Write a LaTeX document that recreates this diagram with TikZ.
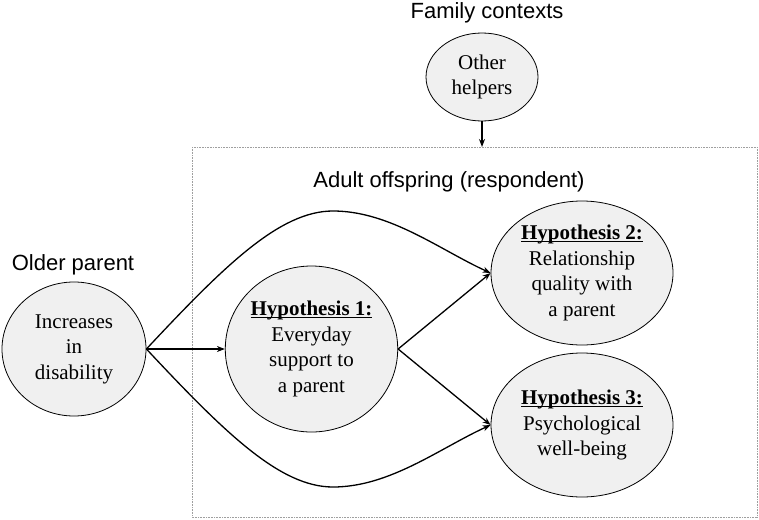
\documentclass[tikz,border=0pt]{standalone}
\usepackage{fontspec}
\setmainfont{Liberation Serif}
\newfontfamily\labelfont{Liberation Sans}
\usetikzlibrary{shapes.geometric,arrows.meta}
\newcommand\hyphead[1]{\setbox0\hbox{\textbf{#1}}\rlap{\textbf{#1}}\rule[-2.2pt]{\wd0}{1.1pt}}
\begin{document}
\begin{tikzpicture}[x=1pt,y=-1pt,
  bub/.style={ellipse,draw=black,line width=0.8pt,fill=gray!12,inner sep=0pt,
    align=center,font=\fontsize{21}{25.5}\selectfont},
  lab/.style={font=\labelfont\fontsize{22}{26}\selectfont,anchor=base,inner sep=0pt},
  conn/.style={line width=1.3pt,-{Stealth[length=8pt,width=6pt]}},
  frame/.style={draw=gray!75,line width=1pt,dash pattern=on 1pt off 0.6pt}]
\useasboundingbox (0,0) rectangle (759,519);
\draw[frame] (192,147) rectangle (757,517);
\coordinate (boxtop) at (482,147);
\node[lab] (fam) at (487,19) {Family contexts};
\node[lab] (adult) at (449,187) {Adult offspring (respondent)};
\node[lab] (older) at (73,270) {Older parent};
\node[bub,minimum width=112pt,minimum height=88pt] (oh) at (482,77) {Other\\helpers};
\node[bub,minimum width=144pt,minimum height=134pt] (inc) at (74,349) {Increases\\in\\disability};
\node[bub,minimum width=167pt,minimum height=166pt] (h1) at (311.5,349) {\hyphead{Hypothesis 1:}\\Everyday\\support to\\a parent};
\node[bub,minimum width=182pt,minimum height=144pt] (h2) at (582,273) {\hyphead{Hypothesis 2:}\\Relationship\\quality with\\a parent};
\node[bub,minimum width=182pt,minimum height=144pt] (h3) at (582,425) {\hyphead{Hypothesis 3:}\\Psychological\\well-being};
\draw[conn] (oh.south) -- (boxtop);
\draw[conn] (inc.east) -- (h1.west);
\draw[conn] (inc.east) .. controls (225,265) and (280,211) .. (333,211) .. controls (390,211) and (440,250) .. (h2.west);
\draw[conn] (inc.east) .. controls (225,433) and (280,487) .. (333,487) .. controls (390,487) and (440,448) .. (h3.west);
\draw[conn] (h1.east) -- (h2.west);
\draw[conn] (h1.east) -- (h3.west);
\end{tikzpicture}
\end{document}
